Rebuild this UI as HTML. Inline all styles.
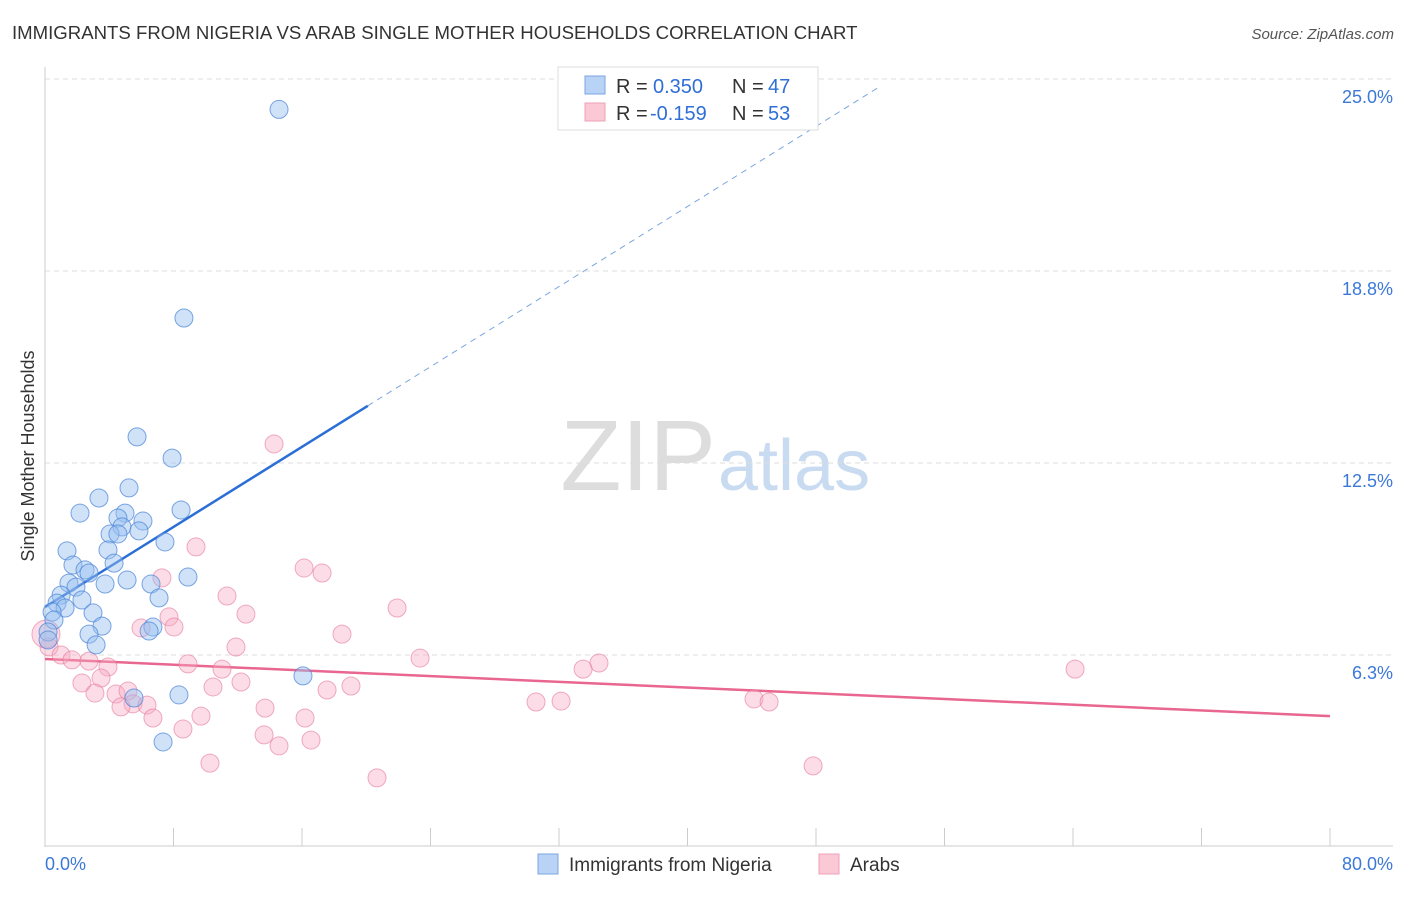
<!DOCTYPE html>
<html><head><meta charset="utf-8"><style>
body{margin:0;background:#fff;font-family:"Liberation Sans",sans-serif;}
svg text{font-family:"Liberation Sans",sans-serif;}
</style></head><body>
<svg id="chart" width="1406" height="892">
<text x="12" y="39" font-size="18.6" fill="#333">IMMIGRANTS FROM NIGERIA VS ARAB SINGLE MOTHER HOUSEHOLDS CORRELATION CHART</text>
<text x="1394" y="39" font-size="15" fill="#555" text-anchor="end" font-style="italic">Source: ZipAtlas.com</text>
<text x="716" y="490" font-size="100" fill="#ddd" text-anchor="end" font-family="Liberation Serif">ZIP</text>
<text x="718" y="490" font-size="72" fill="#c9dbf1">atlas</text>
<text transform="translate(34,456) rotate(-90)" font-size="18" fill="#333" text-anchor="middle">Single Mother Households</text>
<g id="grid"></g><g id="axes"></g><g id="trend"></g><g id="points"></g>
<g>
<rect x="558" y="67" width="260" height="63" fill="#fff" stroke="#ddd"/>
<rect x="585" y="76" width="20" height="18" fill="#b8d3f5" stroke="#7aa6e0"/>
<rect x="585" y="103" width="20" height="18" fill="#fbc8d6" stroke="#eea0b6"/>
<text x="616" y="93" font-size="20" fill="#333">R =</text>
<text x="653" y="93" font-size="20" fill="#2f6fd6">0.350</text>
<text x="732" y="93" font-size="20" fill="#333">N =</text>
<text x="768" y="93" font-size="20" fill="#2f6fd6">47</text>
<text x="616" y="120" font-size="20" fill="#333">R =</text>
<text x="650" y="120" font-size="20" fill="#2f6fd6">-0.159</text>
<text x="732" y="120" font-size="20" fill="#333">N =</text>
<text x="768" y="120" font-size="20" fill="#2f6fd6">53</text>
</g>
<g>
<rect x="538" y="854" width="20" height="20" fill="#b8d3f5" stroke="#7aa6e0"/>
<text x="569" y="871" font-size="19" fill="#333">Immigrants from Nigeria</text>
<rect x="819" y="854" width="20" height="20" fill="#fbc8d6" stroke="#eea0b6"/>
<text x="850" y="871" font-size="19" fill="#333">Arabs</text>
</g>
</svg>
<script>
const blueX=[14.57,8.65,5.73,7.91,3.36,5.23,2.18,4.98,8.47,4.54,6.10,4.79,4.05,4.54,5.85,7.47,1.37,3.92,1.74,4.30,2.49,2.74,8.90,1.49,3.74,5.11,6.60,1.93,1.0,7.10,2.30,0.75,1.25,2.99,0.44,0.56,3.55,6.72,6.48,2.74,3.18,0.19,0.19,16.06,5.54,8.34,7.35];
const blueY=[24.01,17.22,13.35,12.66,11.36,11.69,10.87,10.87,10.97,10.71,10.61,10.42,10.19,10.19,10.29,9.93,9.64,9.67,9.18,9.24,9.02,8.92,8.79,8.59,8.56,8.69,8.56,8.46,8.20,8.11,8.04,7.94,7.78,7.62,7.65,7.39,7.19,7.16,7.03,6.93,6.58,7.0,6.74,5.57,4.85,4.95,3.42];
const pinkX=[14.26,9.40,16.13,17.25,7.28,11.33,21.92,12.51,7.72,8.03,5.98,18.49,11.89,0.25,23.35,34.49,33.50,64.13,1.0,1.68,2.74,3.92,8.90,11.02,2.30,3.49,10.46,12.20,17.56,19.05,3.11,4.42,5.17,5.48,6.35,4.73,30.57,32.13,44.14,45.08,6.72,9.71,16.19,13.70,8.59,13.64,14.57,16.56,10.27,20.67,47.82,0.06];
const pinkY=[13.12,9.77,9.08,8.92,8.76,8.17,7.78,7.58,7.49,7.16,7.13,6.93,6.51,6.51,6.15,5.99,5.79,5.79,6.25,6.09,6.05,5.86,5.96,5.79,5.34,5.50,5.21,5.37,5.11,5.24,5.01,4.98,5.08,4.66,4.62,4.56,4.72,4.75,4.82,4.72,4.20,4.26,4.20,4.52,3.84,3.65,3.29,3.48,2.73,2.25,2.64,6.93];
const yTicks=[6.3,12.5,18.8,25.0];
const yGrid=[6.25,12.5,18.75,25];
const xTickVals=[0,8,16,24,32,40,48,56,64,72,80];
const blueTrend=[7.81,0.326,20.1,52.0];
const pinkTrend=[6.12,4.26];
const NS='http://www.w3.org/2000/svg';
const sx=v=>45+v*1285/80, sy=v=>847-v*30.72;
function mk(t,a,p){const e=document.createElementNS(NS,t);for(const k in a)e.setAttribute(k,a[k]);document.getElementById(p).appendChild(e);return e;}
yGrid.forEach((v,i)=>{const l=mk('line',{x1:45,x2:1393,y1:sy(v),y2:sy(v),stroke:'#ddd','stroke-dasharray':'5,4'},'grid');


const t=mk('text',{x:1393,y:sy(v)+24,'font-size':18,fill:'#3b78d8','text-anchor':'end'},'grid');t.textContent=yTicks[i].toFixed(1)+'%';

});
const ya=mk('line',{x1:45,x2:45,y1:67,y2:847,stroke:'#ccc'},'axes');


const xa=mk('line',{x1:45,x2:1393,y1:846,y2:846,stroke:'#ccc'},'axes');


xTickVals.forEach(v=>{const l=mk('line',{x1:sx(v),x2:sx(v),y1:828,y2:846,stroke:'#ccc'},'axes');

});
const x0=mk('text',{x:45,y:870,'font-size':18,fill:'#3b78d8'},'axes');x0.textContent='0.0%';


const x1=mk('text',{x:1393,y:870,'font-size':18,fill:'#3b78d8','text-anchor':'end'},'axes');x1.textContent='80.0%';


pinkX.forEach((x,i)=>{const c=mk('circle',{cx:sx(x),cy:sy(pinkY[i]),r:i==pinkX.length-1?14:9,fill:'rgba(248,170,195,0.4)',stroke:'rgba(230,120,155,0.6)'},'points');

});
blueX.forEach((x,i)=>{const c=mk('circle',{cx:sx(x),cy:sy(blueY[i]),r:9,fill:'rgba(150,190,240,0.45)',stroke:'rgba(70,130,215,0.7)'},'points');

});
const [b0,bs,bEnd,bDash]=blueTrend;
const bl=mk('line',{x1:sx(0),y1:sy(b0),x2:sx(bEnd),y2:sy(b0+bs*bEnd),stroke:'#2b6fd6','stroke-width':2.5},'trend');


const bd=mk('line',{x1:sx(bEnd),y1:sy(b0+bs*bEnd),x2:sx(bDash),y2:sy(b0+bs*bDash),stroke:'#7aa6e0','stroke-width':1,'stroke-dasharray':'6,5'},'trend');


const pl=mk('line',{x1:sx(0),y1:sy(pinkTrend[0]),x2:sx(80),y2:sy(pinkTrend[1]),stroke:'#e8668f','stroke-width':2.5},'trend');


</script>
</body></html>
